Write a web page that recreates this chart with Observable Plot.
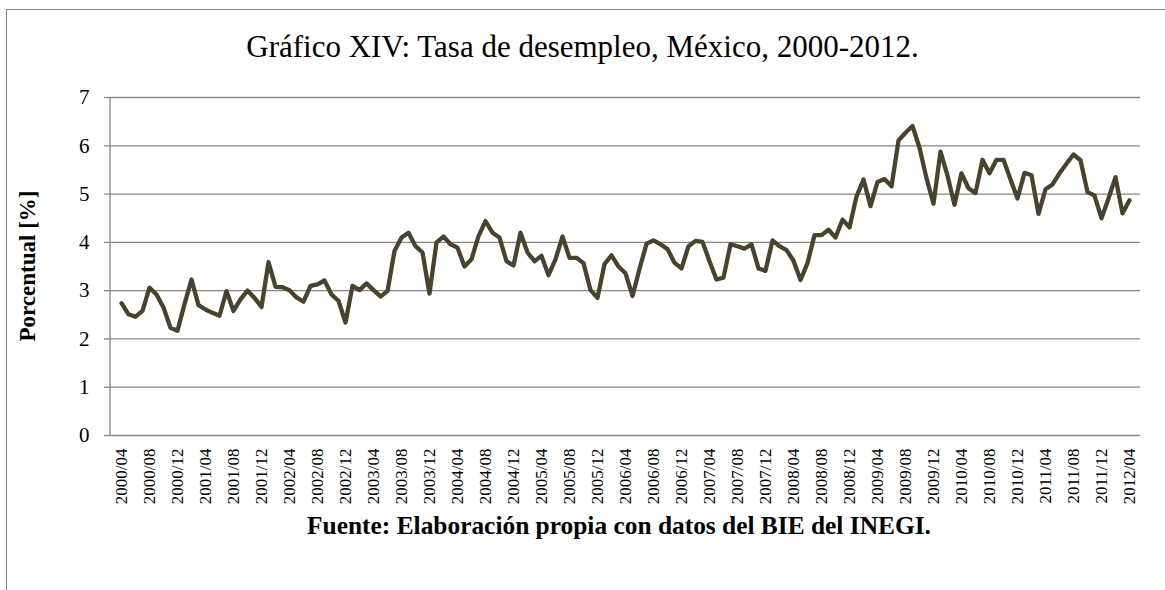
<!DOCTYPE html>
<html>
<head>
<meta charset="utf-8">
<script src="https://cdn.jsdelivr.net/npm/d3@7"></script>
<script src="https://cdn.jsdelivr.net/npm/@observablehq/plot@0.6"></script>
<style>
  html, body { margin: 0; padding: 0; background: #fff; }
  #chart { position: relative; width: 1165px; height: 590px; overflow: hidden; background: #fff;
           font-family: "Liberation Serif", Times, "Times New Roman", serif; color: #000; }
  #frame { position: absolute; left: 6px; top: 9px; width: 1180px; height: 620px; border: 1px solid #868686; box-sizing: border-box; }
  #title { position: absolute; left: 0; width: 1165px; top: 32px; text-align: center; font-size: 31px; line-height: 30px; white-space: nowrap; }
  #ylabel { position: absolute; left: -72px; width: 200px; top: 254px; height: 24px; line-height: 24px; text-align: center;
            font-size: 23px; font-weight: bold; transform: rotate(-90deg); white-space: nowrap; }
  #caption { position: absolute; left: 104px; width: 1030px; top: 513px; text-align: center; font-size: 25.4px; line-height: 25px; font-weight: bold; white-space: nowrap; }
  #plot { position: absolute; left: 0; top: 0; }
</style>
</head>
<body>
<div id="chart">
  <div id="frame"></div>
  <div id="plot"></div>
  <div id="title"></div>
  <div id="ylabel"></div>
  <div id="caption"></div>
</div>
<script>
const titleText = "Gráfico XIV: Tasa de desempleo, México, 2000-2012.";
const yLabelText = "Porcentual [%]";
const captionText = "Fuente: Elaboración propia con datos del BIE del INEGI.";

const months = [
  "2000/04","2000/05","2000/06","2000/07","2000/08","2000/09","2000/10","2000/11","2000/12",
  "2001/01","2001/02","2001/03","2001/04","2001/05","2001/06","2001/07","2001/08","2001/09","2001/10","2001/11","2001/12",
  "2002/01","2002/02","2002/03","2002/04","2002/05","2002/06","2002/07","2002/08","2002/09","2002/10","2002/11","2002/12",
  "2003/01","2003/02","2003/03","2003/04","2003/05","2003/06","2003/07","2003/08","2003/09","2003/10","2003/11","2003/12",
  "2004/01","2004/02","2004/03","2004/04","2004/05","2004/06","2004/07","2004/08","2004/09","2004/10","2004/11","2004/12",
  "2005/01","2005/02","2005/03","2005/04","2005/05","2005/06","2005/07","2005/08","2005/09","2005/10","2005/11","2005/12",
  "2006/01","2006/02","2006/03","2006/04","2006/05","2006/06","2006/07","2006/08","2006/09","2006/10","2006/11","2006/12",
  "2007/01","2007/02","2007/03","2007/04","2007/05","2007/06","2007/07","2007/08","2007/09","2007/10","2007/11","2007/12",
  "2008/01","2008/02","2008/03","2008/04","2008/05","2008/06","2008/07","2008/08","2008/09","2008/10","2008/11","2008/12",
  "2009/01","2009/02","2009/03","2009/04","2009/05","2009/06","2009/07","2009/08","2009/09","2009/10","2009/11","2009/12",
  "2010/01","2010/02","2010/03","2010/04","2010/05","2010/06","2010/07","2010/08","2010/09","2010/10","2010/11","2010/12",
  "2011/01","2011/02","2011/03","2011/04","2011/05","2011/06","2011/07","2011/08","2011/09","2011/10","2011/11","2011/12",
  "2012/01","2012/02","2012/03","2012/04"
];

const rates = [
  2.74,2.51,2.46,2.58,3.06,2.92,2.65,2.23,2.17,
  2.72,3.23,2.70,2.61,2.54,2.48,2.99,2.58,2.82,3.00,2.85,2.66,
  3.59,3.08,3.07,3.01,2.86,2.77,3.10,3.13,3.21,2.92,2.79,2.34,
  3.10,3.01,3.15,3.01,2.88,2.99,3.82,4.10,4.20,3.92,3.79,2.94,
  4.00,4.12,3.96,3.89,3.50,3.65,4.13,4.44,4.20,4.10,3.61,3.52,
  4.20,3.79,3.61,3.72,3.32,3.65,4.12,3.68,3.68,3.57,3.01,2.85,
  3.55,3.73,3.50,3.36,2.89,3.45,3.97,4.04,3.96,3.86,3.58,3.46,
  3.92,4.03,4.01,3.61,3.23,3.27,3.96,3.92,3.87,3.96,3.46,3.41,
  4.04,3.92,3.84,3.62,3.22,3.57,4.15,4.15,4.26,4.10,4.47,4.31,
  4.95,5.30,4.75,5.25,5.31,5.16,6.11,6.27,6.41,5.96,5.33,4.80,
  5.88,5.38,4.78,5.43,5.12,5.02,5.71,5.43,5.71,5.71,5.30,4.91,
  5.44,5.39,4.59,5.10,5.20,5.43,5.63,5.82,5.70,5.04,4.97,4.50,
  4.91,5.35,4.60,4.87
];

const yTicks = [0, 1, 2, 3, 4, 5, 6, 7];
const xTickLabels = months.filter((d, i) => i % 4 === 0);

const rows = months.map((m, i) => ({month: m, rate: rates[i]}));

const gridColor = "#868686";
const lineColor = "#49432d";
const serifFamily = "Liberation Serif";

const plot = Plot.plot({
  width: 1165,
  height: 590,
  marginLeft: 110,
  marginRight: 25,
  marginTop: 97,
  marginBottom: 155,
  style: "background: transparent; color: #000; overflow: visible; font-family: Liberation Serif;",
  x: {type: "point", domain: months, padding: 0.5},
  y: {domain: [0, 7]},
  marks: [
    Plot.gridY(yTicks, {stroke: gridColor, strokeOpacity: 1, strokeWidth: 1.3}),
    (index, scales, values, dims) => {
      const g = d3.create("svg:g");
      g.append("line")
        .attr("x1", dims.marginLeft).attr("x2", dims.marginLeft)
        .attr("y1", dims.marginTop).attr("y2", dims.height - dims.marginBottom)
        .attr("stroke", gridColor).attr("stroke-width", 1.3);
      return g.node();
    },
    Plot.axisY(yTicks, {tickSize: 6, tickPadding: 15, fontSize: 21, stroke: gridColor, strokeWidth: 1.3, label: null}),
    Plot.axisX(xTickLabels, {tickSize: 0, tickPadding: 13, tickRotate: -90, fontSize: 17, label: null}),
    Plot.line(rows, {x: "month", y: "rate", stroke: lineColor, strokeWidth: 4.3, strokeLinejoin: "round", strokeLinecap: "round"})
  ]
});

document.getElementById("plot").appendChild(plot);

// serif font on the axis texts, as in the reference
plot.setAttribute("font-family", serifFamily);
plot.querySelectorAll("g").forEach(g => { if (g.hasAttribute("font-family")) g.setAttribute("font-family", serifFamily); });
plot.querySelectorAll("text").forEach(t => {
  t.setAttribute("font-family", serifFamily);
  t.style.setProperty("font-family", serifFamily, "important");
  t.style.setProperty("fill", "#000");
  const s = t.textContent;
  if (/^\d{4}\/\d{2}$/.test(s)) t.style.setProperty("font-size", "17px", "important");
  else if (/^\d$/.test(s)) t.style.setProperty("font-size", "21px", "important");
});

document.getElementById("title").textContent = titleText;
document.getElementById("ylabel").textContent = yLabelText;
document.getElementById("caption").textContent = captionText;
</script>
</body>
</html>
